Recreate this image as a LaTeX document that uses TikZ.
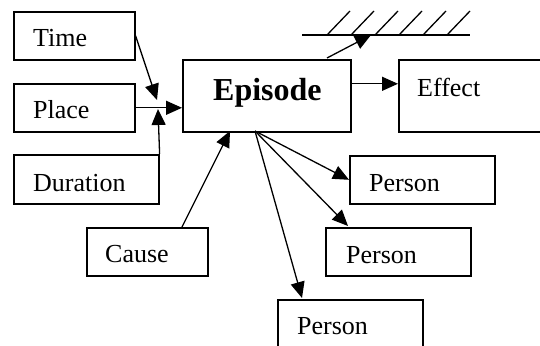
\documentclass[tikz,border=0pt]{standalone}
\usepackage{fontspec}
\setmainfont{Liberation Serif}
\usetikzlibrary{arrows.meta}
\tikzset{
  box/.style={draw, line width=1.6pt, anchor=north west, inner sep=0pt},
  lbl/.style={anchor=base west, inner sep=0pt, font=\fontsize{26}{30}\selectfont},
  conn/.style={line width=1.3pt, -{Triangle[length=16pt,width=14pt]}},
  hatch/.style={line width=1.3pt}
}
\begin{document}
\begin{tikzpicture}[x=1pt,y=-1pt]
\clip (0,0) rectangle (540,345);
\fill[white] (0,0) rectangle (540,345);
% boxes
\node[box, minimum width=121pt, minimum height=48pt] (time) at (13,11) {};
\node[box, minimum width=121pt, minimum height=48pt] (place) at (13,83) {};
\node[box, minimum width=145pt, minimum height=49pt] (duration) at (13,154) {};
\node[box, minimum width=168pt, minimum height=72pt] (episode) at (182,59) {};
\node[box, minimum width=170pt, minimum height=72pt] (effect) at (398,59) {};
\node[box, minimum width=121pt, minimum height=48pt] (cause) at (86,227) {};
\node[box, minimum width=145pt, minimum height=48pt] (p1) at (349,155) {};
\node[box, minimum width=145pt, minimum height=48pt] (p2) at (325,227) {};
\node[box, minimum width=145pt, minimum height=60pt] (p3) at (277,299) {};
% labels
\node[lbl] (time-t) at (33,47) {Time};
\node[lbl] (place-t) at (33,118) {Place};
\node[lbl] (duration-t) at (33,191) {Duration};
\node[lbl, font=\fontsize{32}{36}\selectfont\bfseries] (episode-t) at (213,100) {Episode};
\node[lbl] (effect-t) at (417,96) {Effect};
\node[lbl] (cause-t) at (105,262) {Cause};
\node[lbl] (p1-t) at (369,191) {Person};
\node[lbl] (p2-t) at (346,263) {Person};
\node[lbl] (p3-t) at (297,334) {Person};
% ground (hatched line)
\coordinate (gl) at (302,35);
\coordinate (gr) at (470,35);
\draw[hatch] (gl) -- (gr);
\foreach \hx in {327,351,375,399,423,447}
  \draw[hatch] (\hx,35) -- ++(23,-24);
% coordinates
\coordinate (jt) at (157,100);
\coordinate (jd) at (158,109);
\coordinate (eb) at (255,131);
\coordinate (etop) at (327,58);
\coordinate (gtip) at (371,35);
\coordinate (p2in) at (348,226);
\coordinate (p3in) at (302,298);
\coordinate (cin) at (230,131);
\coordinate (cout) at (182,227);
% connectors
\draw[conn] (time.east) -- (jt);
\draw[conn] (place.east) -- (place.east -| episode.west);
\draw[conn] (duration.north east) -- (jd);
\draw[conn] (etop) -- (gtip);
\draw[conn] ([yshift=12pt]episode.east) -- ([yshift=12pt]episode.east -| effect.west);
\draw[conn] (cout) -- (cin);
\draw[conn] (eb) -- (p1.west);
\draw[conn] (eb) -- (p2in);
\draw[conn] (eb) -- (p3in);
\end{tikzpicture}
\end{document}
